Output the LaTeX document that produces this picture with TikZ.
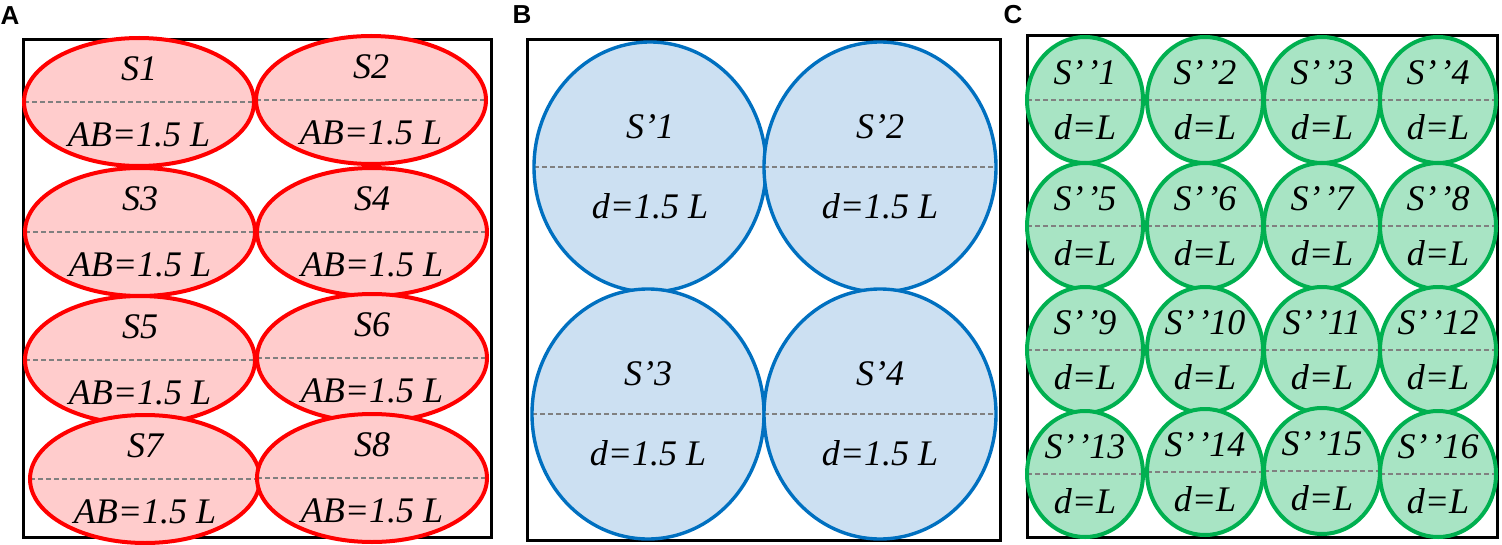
\documentclass[tikz,border=0pt]{standalone}
\usepackage{fontspec}
\setmainfont{Liberation Serif}
\setsansfont{Liberation Sans}
\usetikzlibrary{shapes.geometric}

\definecolor{redline}{RGB}{255,0,0}
\definecolor{redfill}{RGB}{255,204,204}
\definecolor{blueline}{RGB}{0,112,192}
\definecolor{bluefill}{RGB}{204,224,242}
\definecolor{greenline}{RGB}{0,176,80}
\definecolor{greenfill}{RGB}{168,228,196}

\begin{document}
\begin{tikzpicture}[x=0.5pt, y=-0.5pt,
  frame/.style={draw=black, line width=1.5pt},
  panel/.style={font=\sffamily\bfseries\fontsize{13}{15}\selectfont, inner sep=0pt},
  midline/.style={path picture={\draw[gray, line width=0.7pt, dash pattern=on 2.5pt off 1.5pt]
      (path picture bounding box.west) -- (path picture bounding box.east);}},
  zone/.style={ellipse, inner sep=0pt, align=center, midline},
  redell/.style={zone, draw=redline, fill=redfill, line width=2pt,
      minimum width=115pt, minimum height=64pt, font=\itshape\fontsize{18}{33}\selectfont},
  bluecirc/.style={zone, draw=blueline, fill=bluefill, line width=1.7pt,
      minimum width=116pt, minimum height=125pt, font=\itshape\fontsize{18}{40}\selectfont},
  greencirc/.style={zone, draw=greenline, fill=greenfill, line width=2pt,
      minimum width=58pt, minimum height=63pt, font=\itshape\fontsize{18}{27.5}\selectfont}
]
  \useasboundingbox (0,0) rectangle (1502,545);

  % panel labels
  \node[panel] (labA) at (10,16) {A};
  \node[panel] (labB) at (522,15) {B};
  \node[panel] (labC) at (1013,15) {C};

  % frames
  \draw[frame] (23,40) rectangle (491,537);
  \draw[frame] (527,40) rectangle (1000,540);
  \draw[frame] (1027,36) rectangle (1497,537);

  % A: ellipses
  \node[redell] (S1) at (139,102) {S1\\AB=1.5 L};
  \node[redell] (S2) at (371,100) {S2\\AB=1.5 L};
  \node[redell] (S3) at (140,232) {S3\\AB=1.5 L};
  \node[redell] (S4) at (372,232) {S4\\AB=1.5 L};
  \node[redell] (S5) at (140,360) {S5\\AB=1.5 L};
  \node[redell] (S6) at (372,358) {S6\\AB=1.5 L};
  \node[redell] (S7) at (145,479) {S7\\AB=1.5 L};
  \node[redell] (S8) at (372,478) {S8\\AB=1.5 L};

  % B: large circles
  \node[bluecirc] (P1) at (650,167) {S’1\\d=1.5 L};
  \node[bluecirc] (P2) at (880,167) {S’2\\d=1.5 L};
  \node[bluecirc] (P3) at (648,414) {S’3\\d=1.5 L};
  \node[bluecirc] (P4) at (880,414) {S’4\\d=1.5 L};

  % C: small circles
  \node[greencirc] (Q1) at (1085,100) {S’\kern1.5pt’1\\d=L};
  \node[greencirc] (Q2) at (1205,100) {S’\kern1.5pt’2\\d=L};
  \node[greencirc] (Q3) at (1322,100) {S’\kern1.5pt’3\\d=L};
  \node[greencirc] (Q4) at (1438,100) {S’\kern1.5pt’4\\d=L};
  \node[greencirc] (Q5) at (1085,226) {S’\kern1.5pt’5\\d=L};
  \node[greencirc] (Q6) at (1205,226) {S’\kern1.5pt’6\\d=L};
  \node[greencirc] (Q7) at (1322,226) {S’\kern1.5pt’7\\d=L};
  \node[greencirc] (Q8) at (1438,226) {S’\kern1.5pt’8\\d=L};
  \node[greencirc] (Q9) at (1085,350) {S’\kern1.5pt’9\\d=L};
  \node[greencirc] (Q10) at (1205,350) {S’\kern1.5pt’10\\d=L};
  \node[greencirc] (Q11) at (1322,350) {S’\kern1.5pt’11\\d=L};
  \node[greencirc] (Q12) at (1438,350) {S’\kern1.5pt’12\\d=L};
  \node[greencirc] (Q13) at (1085,474) {S’\kern1.5pt’13\\d=L};
  \node[greencirc] (Q14) at (1205,472) {S’\kern1.5pt’14\\d=L};
  \node[greencirc] (Q15) at (1322,471) {S’\kern1.5pt’15\\d=L};
  \node[greencirc] (Q16) at (1438,474) {S’\kern1.5pt’16\\d=L};
\end{tikzpicture}
\end{document}
